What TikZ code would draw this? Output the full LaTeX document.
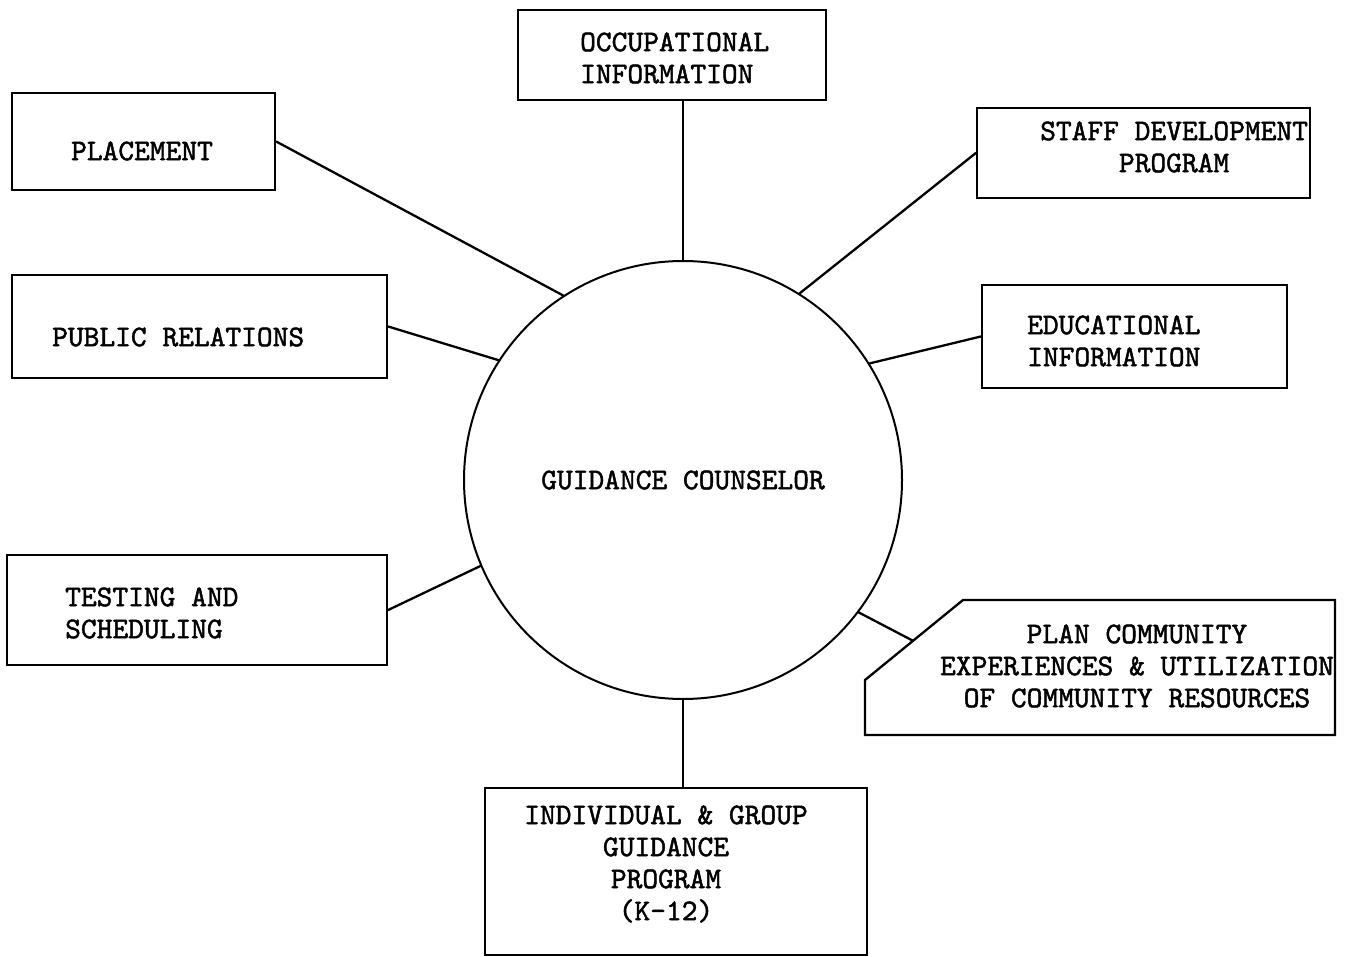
\documentclass[tikz,border=0pt]{standalone}
\usepackage{fontspec}
\newfontfamily\typew{lmmono10-regular.otf}[BoldFont=lmmono10-regular.otf, BoldFeatures={FakeBold=1.6}]
\usepackage{tikz}
\usetikzlibrary{calc}
\tikzset{
  gBox/.style={draw=black, line width=2.3pt, inner sep=0pt},
  gCirc/.style={draw=black, circle, line width=2pt, minimum size=438pt, inner sep=0pt},
  gTxt/.style={inner sep=0pt, text=black},
  %% spokes from the counselor out to each box
  gLink/.style={line width=2.3pt, line cap=round},
}
\begin{document}
\begin{tikzpicture}[x=1pt, y=-1pt, font=\fontsize{30}{32}\selectfont\typew\bfseries]
\useasboundingbox (0,0) rectangle (1352,957);

\node[gCirc] (gc) at (683,480) {GUIDANCE COUNSELOR};

\node[gBox, minimum width=308pt, minimum height=90pt]  (bOccup)  at (672,55)    {};
\node[gBox, minimum width=263pt, minimum height=97pt]  (bPlace)  at (143.5,141.5) {};
\node[gBox, minimum width=333pt, minimum height=90pt]  (bStaff)  at (1143.5,153) {};
\node[gBox, minimum width=375pt, minimum height=103pt] (bPublic) at (199.5,326.5) {};
\node[gBox, minimum width=305pt, minimum height=103pt] (bEduc)   at (1134.5,336.5) {};
\node[gBox, minimum width=380pt, minimum height=110pt] (bTest)   at (197,610)   {};
\node[gBox, minimum width=382pt, minimum height=167pt] (bIndiv)  at (676,871.5) {};
\draw[gBox] (865,680) coordinate (pTip) -- (963,600) coordinate (pTop)
  -- (1335,600) -- (1335,735) -- (865,735) -- cycle;
\coordinate (cPlan) at ($(pTip)!0.49!(pTop)$);

\node[gTxt, anchor=west, align=left]   (tOccup)  at (580,58)   {OCCUPATIONAL\\INFORMATION};
\node[gTxt]                            (tPlace)  at (142,151)  {PLACEMENT};
\node[gTxt, anchor=west, align=center] (tStaff)  at (1040,147) {STAFF DEVELOPMENT\\PROGRAM};
\node[gTxt, anchor=west]               (tPublic) at (52,337)   {PUBLIC RELATIONS};
\node[gTxt, anchor=west, align=left]   (tEduc)   at (1027,341) {EDUCATIONAL\\INFORMATION};
\node[gTxt, anchor=west, align=left]   (tTest)   at (65,613)   {TESTING AND\\SCHEDULING};
\node[gTxt, align=center]              (tPlan)   at (1137,666) {PLAN COMMUNITY\\EXPERIENCES \& UTILIZATION\\OF COMMUNITY RESOURCES};
\node[gTxt, align=center]              (tIndiv)  at (666,864)  {INDIVIDUAL \& GROUP\\GUIDANCE\\PROGRAM\\(K-12)};

\draw[gLink] (bPlace.east)  -- (gc.123.6);
\draw[gLink] (gc.90)        -- (gc.90 |- bOccup.south);
\draw[gLink] (bStaff.west)  -- (gc.58.8);
\draw[gLink] (bPublic.east) -- (gc.147);
\draw[gLink] (bEduc.west)   -- (gc.32.5);
\draw[gLink] (bTest.east)   -- (gc.203.4);
\draw[gLink] (gc.323.4)     -- (cPlan);
\draw[gLink] (gc.270)       -- (gc.270 |- bIndiv.north);
\end{tikzpicture}
\end{document}
